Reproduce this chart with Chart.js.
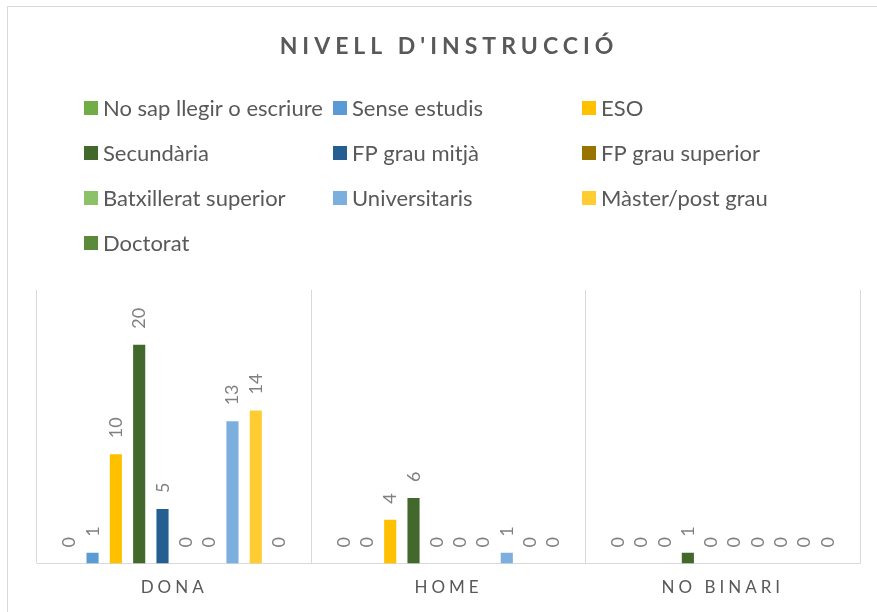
<!DOCTYPE html>
<html lang="ca">
<head>
<meta charset="utf-8">
<title>Nivell d'instrucció</title>
<script src="https://cdn.jsdelivr.net/npm/chart.js@4/dist/chart.umd.min.js"></script>
<style>
    html, body { margin: 0; padding: 0; background: #fff; overflow: hidden; }
    #wrap { position: relative; width: 877px; height: 612px; }
    #frame { position: absolute; left: 7px; top: 6px; width: 900px; height: 700px; border: 1px solid #d9d9d9; box-sizing: border-box; }
    #chart { position: absolute; left: 0; top: 0; }
</style>
</head>
<body>
<div id="wrap">
    <div id="frame"></div>
    <canvas id="chart" width="877" height="612"></canvas>
</div>
<script>
"use strict";

// Dades del gràfic
const chartTitle = "NIVELL D'INSTRUCCIÓ";
const categories = ["DONA", "HOME", "NO BINARI"];
const seriesNames = [
    "No sap llegir o escriure", "Sense estudis", "ESO",
    "Secundària", "FP grau mitjà", "FP grau superior",
    "Batxillerat superior", "Universitaris", "Màster/post grau",
    "Doctorat"
];
const seriesColors = [
    "#70ad47", "#5b9bd5", "#ffc000",
    "#43682b", "#255e91", "#997300",
    "#8cc168", "#7cafdd", "#ffcd33",
    "#5a8a3a"
];
// Valors per categoria, en l'ordre de seriesNames
const donaValues = [0, 1, 10, 20, 5, 0, 0, 13, 14, 0];
const homeValues = [0, 0, 4, 6, 0, 0, 0, 1, 0, 0];
const noBinariValues = [0, 0, 0, 1, 0, 0, 0, 0, 0, 0];

const textColor = "#595959";
const labelColor = "#808080";
const fontName = "Lato, 'Open Sans', sans-serif";

// Un dataset per sèrie
const datasets = seriesNames.map((name, i) => ({
    label: name,
    data: [donaValues[i], homeValues[i], noBinariValues[i]],
    backgroundColor: seriesColors[i],
    borderWidth: 0,
    categoryPercentage: 0.85,
    barPercentage: 0.52
}));

// Títol, llegenda en columnes i etiquetes de dades a l'estil d'Excel
const excelLook = {
    id: "excelLook",
    beforeDraw(chart) {
        const ctx = chart.ctx;
        ctx.save();
        // Títol
        ctx.fillStyle = textColor;
        ctx.font = "bold 23px " + fontName;
        ctx.letterSpacing = "5px";
        ctx.textAlign = "center";
        ctx.textBaseline = "middle";
        ctx.fillText(chartTitle, 449, 47);
        ctx.letterSpacing = "0px";

        // Llegenda, tres columnes
        const colX = [84, 333, 582];
        const rowY = [108, 153, 198, 243];
        ctx.font = "22px " + fontName;
        ctx.textAlign = "left";
        chart.data.datasets.forEach((ds, i) => {
            const x = colX[i % 3];
            const y = rowY[Math.floor(i / 3)];
            ctx.fillStyle = ds.backgroundColor;
            ctx.fillRect(x, y - 7, 14, 14);
            ctx.fillStyle = textColor;
            ctx.fillText(ds.label, x + 19, y + 1);
        });
        ctx.restore();

        // Espaiat de lletres per a les etiquetes de l'eix X
        ctx.letterSpacing = "4px";
    },
    beforeDatasetsDraw(chart) {
        chart.ctx.letterSpacing = "0px";
    },
    afterDatasetsDraw(chart) {
        const ctx = chart.ctx;
        ctx.save();
        ctx.fillStyle = labelColor;
        ctx.font = "18px " + fontName;
        ctx.textAlign = "left";
        ctx.textBaseline = "alphabetic";
        chart.data.datasets.forEach((ds, i) => {
            const meta = chart.getDatasetMeta(i);
            meta.data.forEach((bar, j) => {
                ctx.save();
                ctx.translate(bar.x, bar.y - 16);
                ctx.rotate(-Math.PI / 2);
                ctx.fillText(String(ds.data[j]), 0, 6);
                ctx.restore();
            });
        });
        ctx.restore();
    }
};

new Chart(document.getElementById("chart"), {
    type: "bar",
    data: {
        labels: categories,
        datasets: datasets
    },
    options: {
        responsive: false,
        animation: false,
        layout: {
            padding: { left: 37, right: 17, top: 290, bottom: 0 }
        },
        plugins: {
            legend: { display: false },
            title: { display: false },
            tooltip: { enabled: false }
        },
        scales: {
            x: {
                grid: {
                    offset: true,
                    color: "#d9d9d9",
                    lineWidth: 1,
                    drawTicks: false
                },
                border: { color: "#d9d9d9", width: 1 },
                ticks: {
                    color: textColor,
                    font: { family: fontName, size: 17 },
                    padding: 14
                }
            },
            y: {
                display: false,
                min: 0,
                max: 25
            }
        }
    },
    plugins: [excelLook]
});
</script>
</body>
</html>
